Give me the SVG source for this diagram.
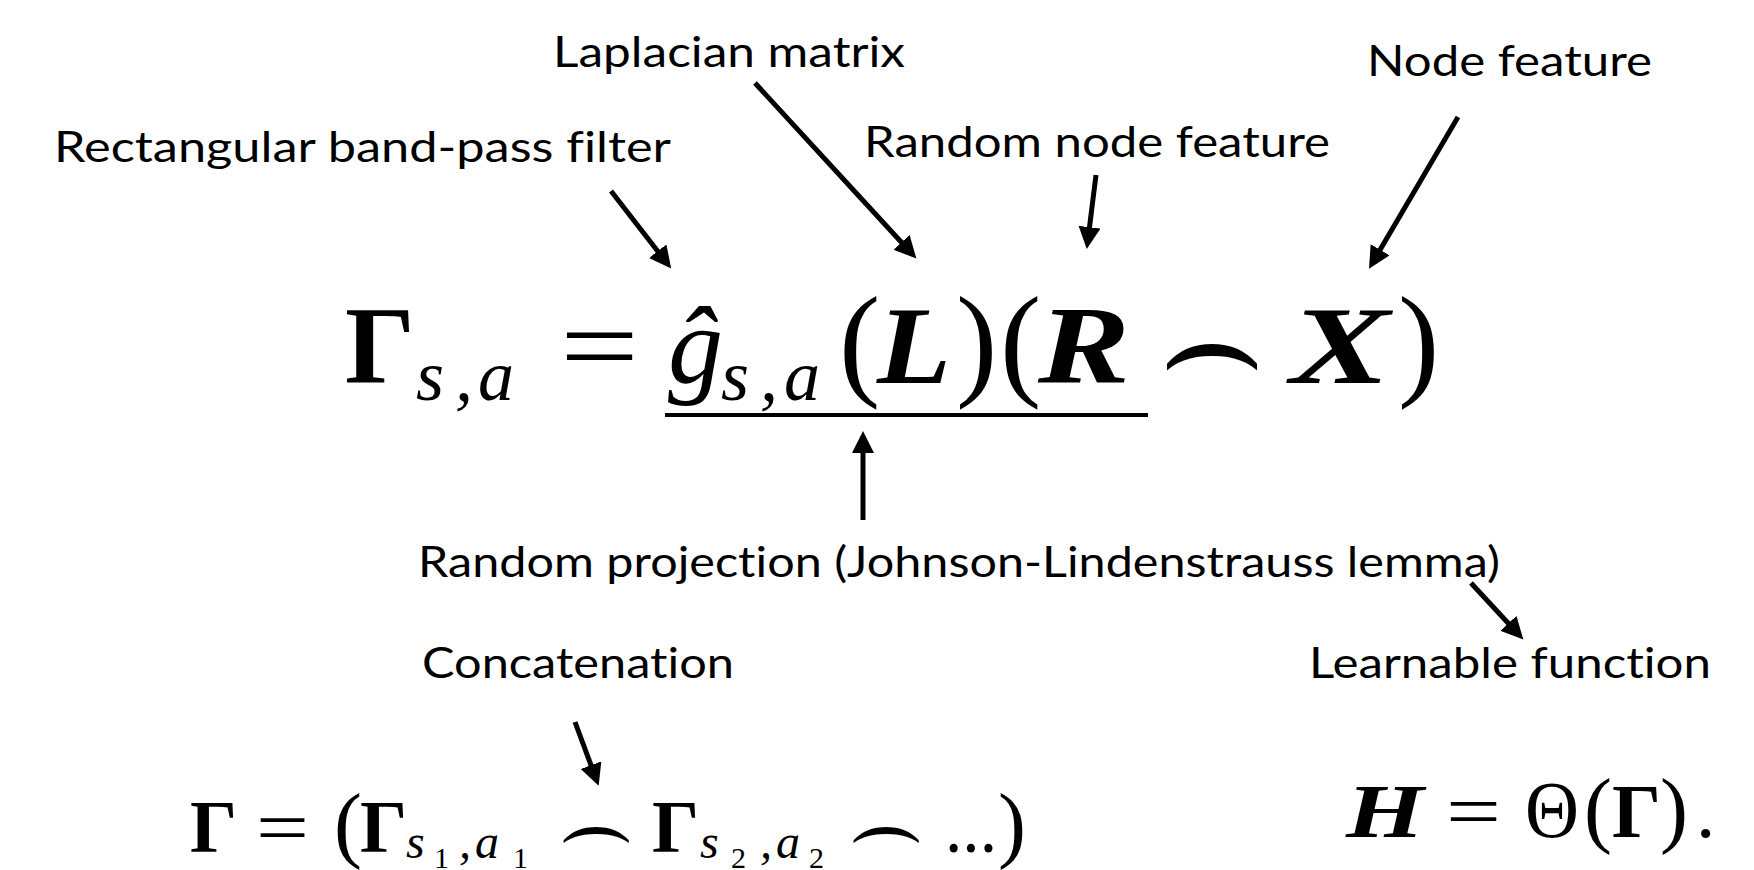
<svg xmlns="http://www.w3.org/2000/svg" width="1754" height="870" viewBox="0 0 1754 870">
<style>
.lbl{font-family:Lato,"Liberation Sans",sans-serif;font-size:42px;fill:#000;font-variant-ligatures:none}
.m{font-family:"Liberation Serif","DejaVu Serif",serif;fill:#000}
.b{font-weight:bold}
.i{font-style:italic}
.fr{font-family:"DejaVu Sans",sans-serif;fill:#000;stroke:#fff;stroke-width:2.3}
.arr{stroke:#000;stroke-width:5;fill:none}
</style>
<defs>
<marker id="ah" markerUnits="userSpaceOnUse" markerWidth="24" markerHeight="24" refX="8" refY="11" orient="auto">
<path d="M0,0 L22,11 L0,22 z" fill="#000"/>
</marker>
</defs>
<rect width="1754" height="870" fill="#fff"/>

<g id="label-laplacian"><text class="lbl" x="553" y="67" textLength="352" lengthAdjust="spacingAndGlyphs">Laplacian matrix</text></g>
<g id="label-node-feature"><text class="lbl" x="1367" y="76" textLength="285" lengthAdjust="spacingAndGlyphs">Node feature</text></g>
<g id="label-filter"><text class="lbl" x="54" y="162" textLength="617" lengthAdjust="spacingAndGlyphs">Rectangular band-pass filter</text></g>
<g id="label-random-node"><text class="lbl" x="864" y="157" textLength="466" lengthAdjust="spacingAndGlyphs">Random node feature</text></g>
<g id="label-projection"><text class="lbl" x="418" y="577" textLength="1082" lengthAdjust="spacingAndGlyphs">Random projection (Johnson-Lindenstrauss lemma)</text></g>
<g id="label-concat"><text class="lbl" x="422" y="678" textLength="312" lengthAdjust="spacingAndGlyphs">Concatenation</text></g>
<g id="label-learnable"><text class="lbl" x="1309" y="678" textLength="402" lengthAdjust="spacingAndGlyphs">Learnable function</text></g>

<g id="formula-main">
<text class="m b" x="345" y="383" font-size="110">Γ</text>
<text class="m i" y="400" font-size="72"><tspan x="416">s</tspan><tspan x="455">,</tspan><tspan x="478">a</tspan></text>
<text class="m" x="560" y="383" font-size="110" textLength="79" lengthAdjust="spacingAndGlyphs">=</text>
<text class="m i" x="668" y="383" font-size="110">ĝ</text>
<text class="m i" y="400" font-size="72"><tspan x="721">s</tspan><tspan x="760">,</tspan><tspan x="784">a</tspan></text>
<text class="m" x="839" y="383" font-size="124">(</text>
<text class="m b i" x="877" y="383" font-size="110" textLength="74" lengthAdjust="spacingAndGlyphs">L</text>
<text class="m" x="956" y="383" font-size="124">)</text>
<text class="m" x="1000" y="383" font-size="124">(</text>
<text class="m b i" x="1038" y="383" font-size="110" textLength="92" lengthAdjust="spacingAndGlyphs">R</text>
<text class="fr" transform="translate(0,405) scale(1,1.75)" x="1155" y="0" font-size="110" textLength="114" lengthAdjust="spacingAndGlyphs">⌢</text>
<text class="m b i" x="1290" y="383" font-size="110" textLength="100" lengthAdjust="spacingAndGlyphs">X</text>
<text class="m" x="1398" y="383" font-size="124">)</text>
<rect x="665" y="413" width="483" height="4" fill="#000"/>
</g>

<g id="formula-concat">
<text class="m b" x="190" y="852" font-size="74">Γ</text>
<text class="m" x="256" y="852" font-size="74" textLength="53" lengthAdjust="spacingAndGlyphs">=</text>
<text class="m" x="334" y="852" font-size="84">(</text>
<text class="m b" x="360" y="852" font-size="74">Γ</text>
<text class="m i" x="406" y="858" font-size="48">s</text>
<text class="m" x="434" y="868" font-size="30">1</text>
<text class="m i" x="459" y="858" font-size="48">,</text>
<text class="m i" x="475" y="858" font-size="48">a</text>
<text class="m" x="513" y="868" font-size="30">1</text>
<text class="fr" transform="translate(0,868) scale(1,1.75)" x="554" y="0" font-size="74" textLength="84" lengthAdjust="spacingAndGlyphs">⌢</text>
<text class="m b" x="652" y="852" font-size="74">Γ</text>
<text class="m i" x="700" y="858" font-size="48">s</text>
<text class="m" x="731" y="868" font-size="30">2</text>
<text class="m i" x="760" y="858" font-size="48">,</text>
<text class="m i" x="776" y="858" font-size="48">a</text>
<text class="m" x="809" y="868" font-size="30">2</text>
<text class="fr" transform="translate(0,868) scale(1,1.75)" x="844" y="0" font-size="74" textLength="84" lengthAdjust="spacingAndGlyphs">⌢</text>
<text class="m" x="945" y="852" font-size="74" textLength="52" lengthAdjust="spacingAndGlyphs">...</text>
<text class="m" x="998" y="852" font-size="84">)</text>
</g>

<g id="formula-output">
<text class="m b i" x="1346" y="837" font-size="77" textLength="78" lengthAdjust="spacingAndGlyphs">H</text>
<text class="m" x="1446" y="837" font-size="77" textLength="55" lengthAdjust="spacingAndGlyphs">=</text>
<text class="m" x="1525" y="837" font-size="80" textLength="54" lengthAdjust="spacingAndGlyphs">Θ</text>
<text class="m" x="1584" y="837" font-size="84">(</text>
<text class="m b" x="1612" y="837" font-size="77">Γ</text>
<text class="m" x="1660" y="837" font-size="84">)</text>
<text class="m" x="1696" y="837" font-size="77">.</text>
</g>

<g id="connectors">
<line class="arr" x1="611" y1="191" x2="662.6" y2="257.5" marker-end="url(#ah)"/>
<line class="arr" x1="755" y1="83" x2="906.9" y2="248.2" marker-end="url(#ah)"/>
<line class="arr" x1="1096" y1="175" x2="1088.5" y2="235.1" marker-end="url(#ah)"/>
<line class="arr" x1="1458" y1="117" x2="1376.1" y2="256.6" marker-end="url(#ah)"/>
<line class="arr" x1="863" y1="520" x2="863" y2="445" marker-end="url(#ah)"/>
<line class="arr" x1="1471" y1="583" x2="1513.8" y2="629.2" marker-end="url(#ah)"/>
<line class="arr" x1="575" y1="722" x2="593.8" y2="772.7" marker-end="url(#ah)"/>
</g>
</svg>
